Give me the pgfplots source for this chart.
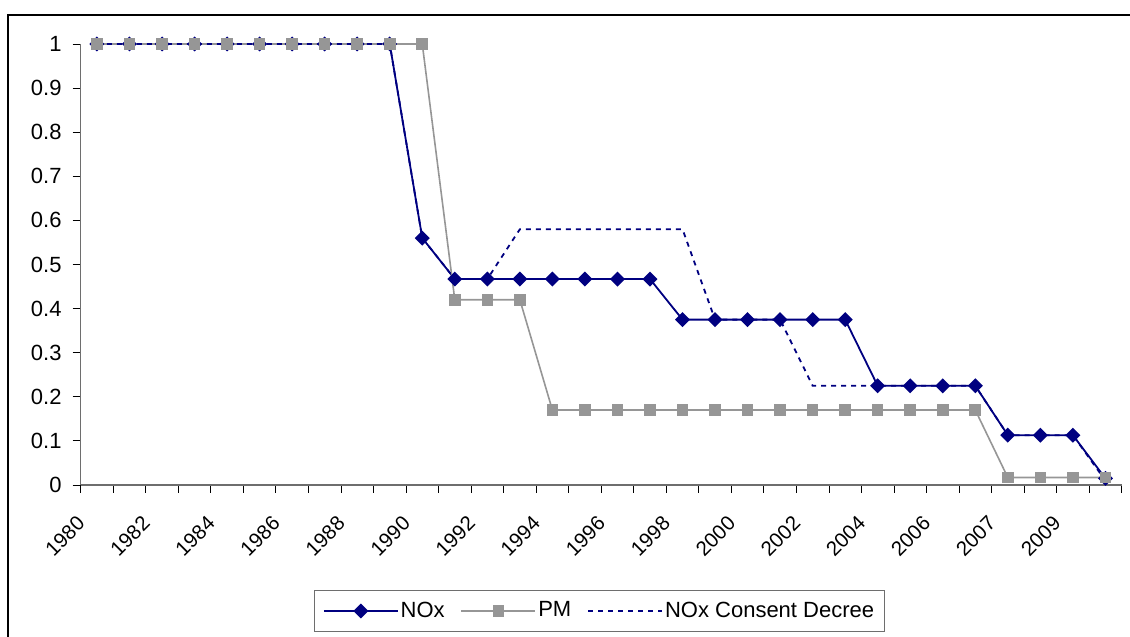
\documentclass[border=0pt]{standalone}
\usepackage{fontspec}
\setmainfont{Liberation Sans}
\usepackage{pgfplots}
\pgfplotsset{compat=1.18}
\usepackage{pgfplotstable}
\definecolor{noxblue}{RGB}{0,0,128}
\definecolor{pmgray}{RGB}{150,150,150}
\definecolor{axgray}{RGB}{110,110,110}
\pgfplotstableread{
i NOx PM CD
0 1 1 1
1 1 1 1
2 1 1 1
3 1 1 1
4 1 1 1
5 1 1 1
6 1 1 1
7 1 1 1
8 1 1 1
9 1 1 1
10 0.56 1 0.56
11 0.467 0.42 0.467
12 0.467 0.42 0.467
13 0.467 0.42 0.58
14 0.467 0.17 0.58
15 0.467 0.17 0.58
16 0.467 0.17 0.58
17 0.467 0.17 0.58
18 0.375 0.17 0.58
19 0.375 0.17 0.375
20 0.375 0.17 0.375
21 0.375 0.17 0.375
22 0.375 0.17 0.225
23 0.375 0.17 0.225
24 0.225 0.17 0.225
25 0.225 0.17 0.225
26 0.225 0.17 0.225
27 0.225 0.17 0.225
28 0.113 0.017 0.113
29 0.113 0.017 0.113
30 0.113 0.017 0.113
31 0.015 0.017 0.01
}\datatable
\newcommand{\bigf}{\fontsize{22}{26}\selectfont}
\newcommand{\xf}{\fontsize{20.5}{24}\selectfont}
\begin{document}
\bigf
\begin{tikzpicture}[x=1pt,y=1pt]
\useasboundingbox (0,0) rectangle (1130,637);
\draw[line width=1.5pt,black] (8,-2) -- (8,622) -- (1132,622);
\begin{axis}[
  at={(80.7pt,152pt)}, anchor=south west,
  scale only axis, width=1041pt, height=441pt,
  xmin=-0.5, xmax=31.5, ymin=0, ymax=1,
  clip=false,
  axis x line*=bottom, axis y line*=left,
  axis line style={axgray, line width=1.2pt},
  xtick={-0.5,0.5,...,31.5},
  xticklabels={},
  x tick style={black, line width=0.8pt},
  extra x ticks={0,2,...,30},
  extra x tick labels={1980,1982,1984,1986,1988,1990,1992,1994,1996,1998,2000,2002,2004,2006,2007,2009},
  extra x tick style={tick style={draw=none}},
  ytick={0,0.1,0.2,0.3,0.4,0.5,0.6,0.7,0.8,0.9,1.0},
  yticklabels={0,0.1,0.2,0.3,0.4,0.5,0.6,0.7,0.8,0.9,1},
  y tick style={black, line width=0.8pt},
  major tick length=8pt,
  tick align=outside,
  yticklabel style={font=\bigf, inner sep=0pt, anchor=east, xshift=-11pt},
  x tick label style={font=\xf, inner sep=0pt, xshift=-15.8pt, yshift=-26.8pt, rotate=45, anchor=east},
  legend columns=3,
  legend style={at={(0.4984,-0.2857)}, anchor=center, draw=axgray, line width=0.8pt,
    font=\bigf, inner xsep=8pt, inner ysep=9pt,
    /tikz/every even column/.append style={column sep=14pt}},
  legend image code/.code={\draw[mark repeat=2,mark phase=2] plot coordinates {(0pt,0pt) (37pt,0pt) (74pt,0pt)};},
]
\addplot[noxblue, line width=1.8pt, mark=square*, mark size=4.4pt, mark options={rotate=45, solid, fill=noxblue}] table[x=i,y=NOx] {\datatable};
\addlegendentry{NOx}
\addplot[pmgray, line width=1.6pt, mark=square*, mark size=5pt, mark options={solid, fill=pmgray}] table[x=i,y=PM] {\datatable};
\addlegendentry{PM}
\addplot[noxblue, line width=1.8pt, dash pattern=on 5pt off 5pt] table[x=i,y=CD] {\datatable};
\addlegendentry{NOx Consent Decree}
\end{axis}
\end{tikzpicture}
\end{document}
